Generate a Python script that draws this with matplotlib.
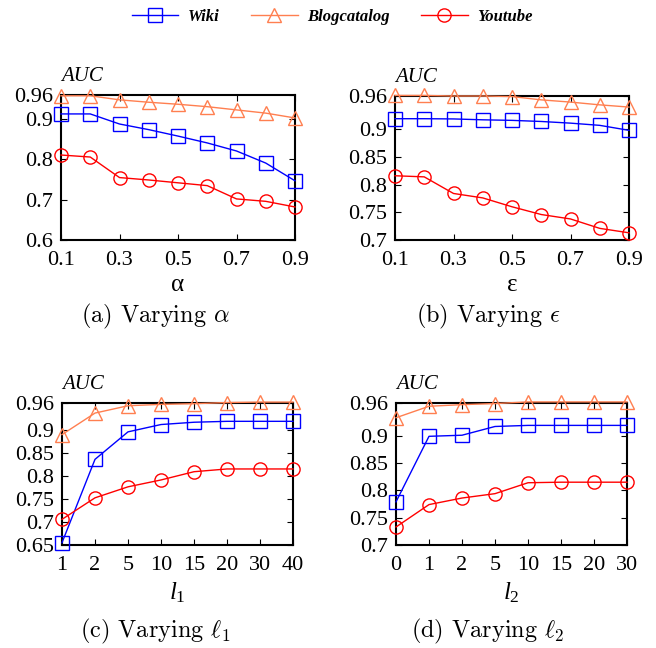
import matplotlib
matplotlib.use("Agg")
import matplotlib.pyplot as plt

plt.rcParams['font.family'] = ['Liberation Serif', 'DejaVu Serif']
plt.rcParams['mathtext.fontset'] = 'custom'
plt.rcParams['mathtext.rm'] = 'Liberation Serif'
plt.rcParams['mathtext.it'] = 'Liberation Serif:italic'

# x values / tick labels
alpha_x = [0.1, 0.2, 0.3, 0.4, 0.5, 0.6, 0.7, 0.8, 0.9]
eps_x = [0.1, 0.2, 0.3, 0.4, 0.5, 0.6, 0.7, 0.8, 0.9]
l1_labels = ['1', '2', '5', '10', '15', '20', '30', '40']
l2_labels = ['0', '1', '2', '5', '10', '15', '20', '30']

# (a) varying alpha
wiki_a = [0.913, 0.913, 0.888, 0.874, 0.858, 0.841, 0.821, 0.791, 0.747]
blog_a = [0.958, 0.958, 0.948, 0.942, 0.937, 0.931, 0.923, 0.915, 0.903]
yt_a = [0.811, 0.806, 0.755, 0.749, 0.742, 0.735, 0.702, 0.696, 0.682]

# (b) varying epsilon
wiki_b = [0.919, 0.919, 0.9186, 0.917, 0.916, 0.914, 0.911, 0.907, 0.898]
blog_b = [0.961, 0.961, 0.960, 0.960, 0.959, 0.953, 0.949, 0.944, 0.940]
yt_b = [0.816, 0.814, 0.784, 0.776, 0.760, 0.746, 0.738, 0.721, 0.713]

# (c) varying l1
wiki_c = [0.655, 0.837, 0.897, 0.913, 0.918, 0.920, 0.920, 0.920]
blog_c = [0.891, 0.938, 0.954, 0.957, 0.9585, 0.961, 0.962, 0.962]
yt_c = [0.706, 0.753, 0.777, 0.792, 0.810, 0.816, 0.816, 0.816]

# (d) varying l2
wiki_d = [0.779, 0.899, 0.901, 0.917, 0.919, 0.919, 0.919, 0.919]
blog_d = [0.933, 0.954, 0.957, 0.959, 0.962, 0.962, 0.962, 0.962]
yt_d = [0.733, 0.774, 0.786, 0.794, 0.814, 0.815, 0.815, 0.815]

W, H = 656, 648
fig = plt.figure(figsize=(W / 100, H / 100), dpi=100)

def box(l, t, r, b):
    return [l / W, 1 - b / H, (r - l) / W, (b - t) / H]

BLUE = '#0000ff'
ORANGE = '#ff7f50'
RED = '#ff0000'

def draw(ax, x, wiki, blog, yt, yticks, ylabels, ylim):
    kw = dict(lw=1, mfc='none', ms=9.5, mew=1, clip_on=False)
    ax.plot(x, blog, color=ORANGE, marker='^', zorder=3, **kw)
    ax.plot(x, wiki, color=BLUE, marker='s', zorder=4, **kw)
    ax.plot(x, yt, color=RED, marker='o', zorder=5, **kw)
    ax.set_ylim(*ylim)
    ax.set_yticks(yticks)
    ax.set_yticklabels(ylabels)
    ax.tick_params(direction='in', top=True, right=True, length=4, width=0.8,
                   labelsize=16, pad=6)
    ax.tick_params(axis='x', pad=8)
    for s in ax.spines.values():
        s.set_linewidth(1.5)
    ax.text(0, 1.06, 'AUC', transform=ax.transAxes, fontsize=15,
            style='italic', ha='left', va='bottom')

cap_kw = dict(fontsize=17.5, family='cmr10', math_fontfamily='cm', ha='center', va='center')

# (a)
ax = fig.add_axes(box(61, 95, 295, 240))
draw(ax, alpha_x, wiki_a, blog_a, yt_a, [0.6, 0.7, 0.8, 0.9, 0.96],
     ['0.6', '0.7', '0.8', '0.9', '0.96'], (0.6, 0.96))
ax.set_xlim(0.1, 0.9)
ax.set_xticks([0.1, 0.3, 0.5, 0.7, 0.9])
ax.set_xlabel('α', fontsize=18, labelpad=3)
fig.text(155 / W, 1 - 316 / H, r'(a) Varying $\alpha$', **cap_kw)

# (b)
ax = fig.add_axes(box(395, 96, 629, 240))
draw(ax, eps_x, wiki_b, blog_b, yt_b, [0.7, 0.75, 0.8, 0.85, 0.9, 0.96],
     ['0.7', '0.75', '0.8', '0.85', '0.9', '0.96'], (0.7, 0.96))
ax.set_xlim(0.1, 0.9)
ax.set_xticks([0.1, 0.3, 0.5, 0.7, 0.9])
ax.set_xlabel('ε', fontsize=18, labelpad=3)
fig.text(488 / W, 1 - 316 / H, r'(b) Varying $\epsilon$', **cap_kw)

# (c)
ax = fig.add_axes(box(62, 403, 293, 545))
pos = list(range(len(l1_labels)))
draw(ax, pos, wiki_c, blog_c, yt_c, [0.65, 0.7, 0.75, 0.8, 0.85, 0.9, 0.96],
     ['0.65', '0.7', '0.75', '0.8', '0.85', '0.9', '0.96'], (0.65, 0.96))
ax.set_xlim(0, len(pos) - 1)
ax.set_xticks(pos)
ax.set_xticklabels(l1_labels)
ax.set_xlabel(r'$\mathit{l}_{\mathit{1}}$', fontsize=18, labelpad=4)
fig.text(155 / W, 1 - 631 / H, r'(c) Varying $\ell_1$', **cap_kw)

# (d)
ax = fig.add_axes(box(396, 403, 627, 545))
pos = list(range(len(l2_labels)))
draw(ax, pos, wiki_d, blog_d, yt_d, [0.7, 0.75, 0.8, 0.85, 0.9, 0.96],
     ['0.7', '0.75', '0.8', '0.85', '0.9', '0.96'], (0.7, 0.96))
ax.set_xlim(0, len(pos) - 1)
ax.set_xticks(pos)
ax.set_xticklabels(l2_labels)
ax.set_xlabel(r'$\mathit{l}_{\mathit{2}}$', fontsize=18, labelpad=4)
fig.text(488 / W, 1 - 631 / H, r'(d) Varying $\ell_2$', **cap_kw)

# shared legend
handles = [
    plt.Line2D([], [], color=BLUE, marker='s', mfc='none', ms=9.5, lw=1),
    plt.Line2D([], [], color=ORANGE, marker='^', mfc='none', ms=9.5, lw=1),
    plt.Line2D([], [], color=RED, marker='o', mfc='none', ms=9.5, lw=1),
]
fig.legend(handles, ['Wiki', 'Blogcatalog', 'Youtube'], loc='center',
           bbox_to_anchor=(332 / W, 1 - 17 / H), ncol=3, frameon=False,
           handlelength=2.8, handletextpad=0.55, columnspacing=1.9,
           prop=dict(family='Liberation Serif', style='italic', weight='bold', size=12))

fig.savefig('out.png', dpi=100)
